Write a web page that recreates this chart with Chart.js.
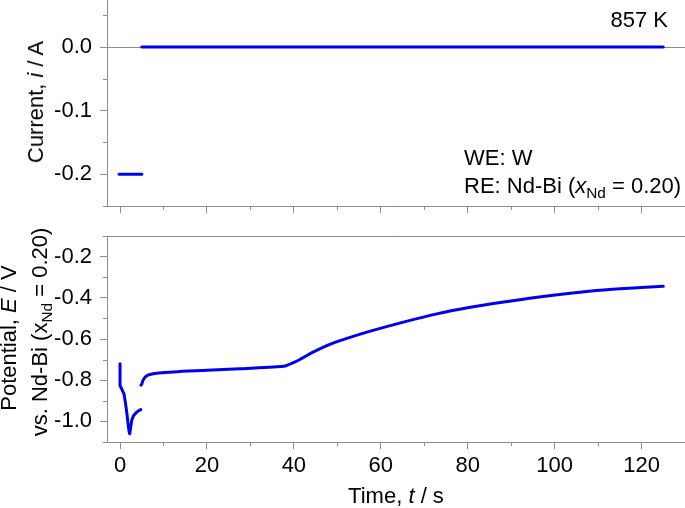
<!DOCTYPE html>
<html>
<head>
<meta charset="utf-8">
<script src="https://cdn.jsdelivr.net/npm/chart.js@4/dist/chart.umd.min.js"></script>
<style>
  html, body { margin: 0; padding: 0; background: #fff; }
  #wrap { position: relative; width: 685px; height: 508px; overflow: hidden; font-family: "Liberation Sans", Arial, sans-serif; color: #000; }
  canvas { position: absolute; left: 0; top: -30px; }
  .lbl { position: absolute; font-size: 22px; line-height: 22px; white-space: nowrap; }
  .rot { transform: translate(-50%, -50%) rotate(-90deg); }
  .sb { font-size: 0.7em; line-height: 0; vertical-align: -0.3em; }
</style>
</head>
<body>
<div id="wrap">
  <canvas id="current" width="720" height="568" style="width:720px;height:568px"></canvas>
  <canvas id="potential" width="720" height="568" style="width:720px;height:568px"></canvas>

  <div class="lbl" style="right:17px;top:8.5px">857 K</div>
  <div class="lbl" style="left:464px;top:147px">WE: W</div>
  <div class="lbl" style="left:464px;top:174.5px">RE: Nd-Bi (<i>x</i><span class="sb">Nd</span> = 0.20)</div>
  <div class="lbl rot" style="left:36px;top:102px">Current, <i>i</i> / A</div>
  <div class="lbl rot" style="left:8.5px;top:338px">Potential, <i>E</i> / V</div>
  <div class="lbl rot" style="left:39.5px;top:332px">vs. Nd-Bi (x<span class="sb">Nd</span> = 0.20)</div>
  <div class="lbl" style="left:107px;width:578px;text-align:center;top:485px">Time, <i>t</i> / s</div>
</div>
<script>
// current step: -0.2 A pulse for ~5 s, then open circuit
const pulseTime = [-0.2, 5.0];
const pulseCurrent = [-0.2, -0.2];
const restTime = [5.0, 125.0];
const restCurrent = [0, 0];

// potential during pulse
const ePulseTime = [0, 0, 0.39, 0.92, 1.22, 1.54, 1.84, 2.07, 2.23, 2.46, 2.69, 3.06, 3.68, 4.21, 4.77];
const ePulse = [-0.720, -0.827, -0.843, -0.867, -0.907, -0.955, -1.011, -1.048, -1.060, -1.027, -0.995, -0.974, -0.958, -0.949, -0.943];

// potential after pulse (relaxation)
const eRestTime = [4.8, 5.0, 5.3, 6.1, 7.1, 8.4, 12.3, 20, 27.6, 35.3, 38, 40, 41.5, 44.4, 48.4, 52.2, 57.6, 65.2, 72.9, 80.6, 88.3, 96, 103.6, 111.3, 119, 125];
const eRest = [-0.824, -0.819, -0.800, -0.779, -0.771, -0.766, -0.760, -0.752, -0.744, -0.736, -0.731, -0.714, -0.698, -0.664, -0.625, -0.597, -0.562, -0.518, -0.478, -0.446, -0.420, -0.397, -0.378, -0.362, -0.351, -0.344];

const BLUE = '#0000f0', AXIS = '#8c8c8c', NONE = 'rgba(0,0,0,0)';
const FONT = { family: '"Liberation Sans", Arial, sans-serif', size: 22 };

const pts = (xs, ys) => xs.map((x, i) => ({ x, y: ys[i] }));
const near = (a, b) => Math.abs(a - b) < 1e-6;
const xMajor = (v) => near(v / 20, Math.round(v / 20));
const yMajorTop = (v) => near(v * 10, Math.round(v * 10));
const yMajorBot = (v) => near(v * 5, Math.round(v * 5));

// short minor ticks, drawn where the library's own ticks are hidden
const minorTicks = {
  id: 'minorTicks',
  afterDraw(chart) {
    const ctx = chart.ctx, sx = chart.scales.x, sy = chart.scales.y;
    const yMajor = chart.canvas.id === 'current' ? yMajorTop : yMajorBot;
    ctx.save();
    ctx.strokeStyle = AXIS; ctx.lineWidth = 1;
    ctx.beginPath();
    sx.ticks.forEach((t) => {
      if (xMajor(t.value) || t.value > sx.max - 0.5) return;
      const px = Math.round(sx.getPixelForValue(t.value)) + 0.5;
      ctx.moveTo(px, sx.top); ctx.lineTo(px, sx.top + 4);
    });
    sy.ticks.forEach((t) => {
      if (yMajor(t.value)) return;
      const py = Math.round(sy.getPixelForValue(t.value)) + 0.5;
      ctx.moveTo(sy.right - 4, py); ctx.lineTo(sy.right, py);
    });
    ctx.stroke();
    ctx.restore();
  }
};

function line(data, smooth) {
  return {
    data, borderColor: BLUE, borderWidth: 3, pointRadius: 0, fill: false,
    borderJoinStyle: 'round', borderCapStyle: 'round',
    tension: smooth ? 0.4 : 0, cubicInterpolationMode: smooth ? 'monotone' : 'default'
  };
}

function xScale(showLabels, height) {
  return {
    type: 'linear', min: -3, max: 130,
    border: { display: true, color: AXIS, width: 1 },
    grid: { drawOnChartArea: false, drawTicks: true, tickLength: 7, tickColor: (c) => xMajor(c.tick.value) ? AXIS : NONE },
    ticks: {
      display: showLabels, stepSize: 10, includeBounds: false, color: '#000', font: FONT, padding: 4, maxRotation: 0, autoSkip: false,
      callback: (v) => xMajor(v) ? String(Math.round(v)) : ''
    },
    afterFit: (s) => { s.height = height; }
  };
}

function yScale(min, max, step, isMajor, lineAt) {
  return {
    type: 'linear', min, max,
    border: { display: true, color: AXIS, width: 1 },
    grid: {
      drawOnChartArea: true, drawTicks: true, tickLength: 7,
      color: (c) => near(c.tick.value, lineAt) ? AXIS : NONE,
      tickColor: (c) => isMajor(c.tick.value) ? AXIS : NONE
    },
    ticks: {
      stepSize: step, includeBounds: false, color: '#000', font: FONT, padding: 8, autoSkip: false,
      callback: (v) => isMajor(v) ? v.toFixed(1) : ''
    },
    afterFit: (s) => { s.width = 107; }
  };
}

const common = {
  responsive: false, animation: false,
  plugins: { legend: { display: false }, tooltip: { enabled: false } }
};

new Chart(document.getElementById('current'), {
  type: 'line',
  data: { datasets: [line(pts(pulseTime, pulseCurrent)), line(pts(restTime, restCurrent))] },
  options: Object.assign({}, common, {
    layout: { padding: { left: 0, top: 30, right: 35, bottom: 322 } },
    scales: { x: xScale(false, 10), y: yScale(-0.25, 0.074, 0.05, yMajorTop, 0) }
  }),
  plugins: [minorTicks]
});

new Chart(document.getElementById('potential'), {
  type: 'line',
  data: { datasets: [line(pts(ePulseTime, ePulse)), line(pts(eRestTime, eRest), true)] },
  options: Object.assign({}, common, {
    layout: { padding: { left: 0, top: 266, right: 35, bottom: 56 } },
    scales: { x: xScale(true, 40), y: yScale(-1.1, -0.1, 0.1, yMajorBot, -0.1) }
  }),
  plugins: [minorTicks]
});
</script>
</body>
</html>
